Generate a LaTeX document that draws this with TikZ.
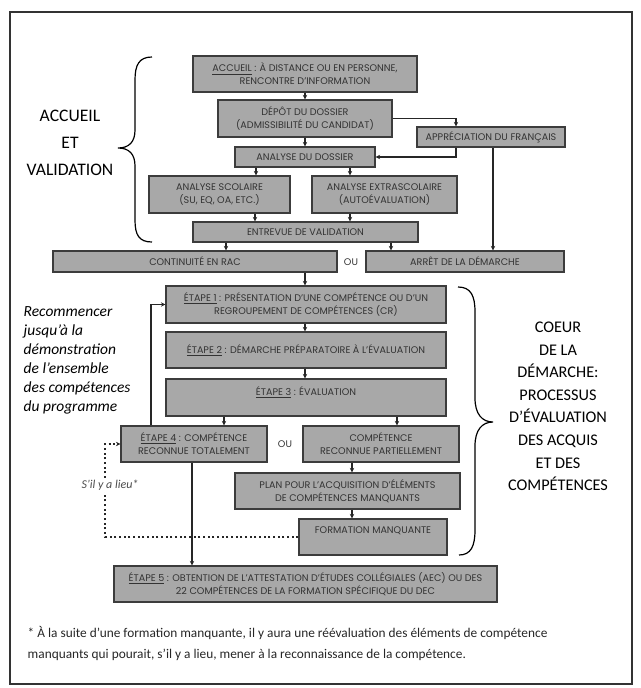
\documentclass[tikz,border=0pt]{standalone}
\usepackage{fontspec}
\setmainfont{Carlito}
\newfontfamily\boxfont{Poppins}
\usetikzlibrary{arrows.meta}
\newcommand{\pxu}{0.75pt}
\definecolor{boxfill}{RGB}{168,168,168}
\definecolor{boxline}{RGB}{60,60,60}

\begin{document}
\begin{tikzpicture}[
  x=0.75pt, y=-0.75pt,
  box/.style 2 args={draw=boxline, fill=boxfill, line width=0.9pt, align=center, inner sep=0pt,
    minimum width=#1*\pxu, minimum height=#2*\pxu, font=\boxfont\fontsize{7.2}{9.8}\selectfont, text=black!80},
  arr/.style={-{Stealth[length=3.4pt,width=3.4pt]}, line width=1pt, draw=black!85},
  dotarr/.style={-{Stealth[length=3.4pt,width=3.4pt]}, line width=1.5pt, dotted, draw=black!85},
  ou/.style={font=\boxfont\fontsize{7.2}{9.8}\selectfont, text=black!80},
  bigtitle/.style={align=center, font=\fontsize{13.2}{20.25}\selectfont},
  sidetitle/.style={align=center, font=\fontsize{12.2}{16.9}\selectfont},
  brace/.style={line width=0.9pt, draw=black}
  ]
\useasboundingbox (0,0) rectangle (640,688);
\draw[line width=1.4pt, draw=black!80] (10,12) rectangle (632,684);

% accueil et validation
\node[box={224}{36}] (accueil) at (305,74) {\underline{ACCUEIL} : À DISTANCE OU EN PERSONNE,\\RENCONTRE D’INFORMATION};
\node[box={174}{37}] (depot) at (305,118.5) {DÉPÔT DU DOSSIER\\(ADMISSIBILITÉ DU CANDIDAT)};
\node[box={148}{20}] (appr) at (491,137) {APPRÉCIATION DU FRANÇAIS};
\node[box={140}{20}] (analyse) at (305,157) {ANALYSE DU DOSSIER};
\node[box={141}{37}] (scol) at (219.5,194.5) {ANALYSE SCOLAIRE\\(SU, EQ, OA, ETC.)};
\node[box={145}{37}] (extra) at (384.5,194.5) {ANALYSE EXTRASCOLAIRE\\(AUTOÉVALUATION)};
\node[box={225}{20}] (entrevue) at (305.5,232) {ENTREVUE DE VALIDATION};
\node[box={284}{21}] (rac) at (195,261.5) {CONTINUITÉ EN RAC};
\node[ou] (ou1) at (351,262) {OU};
\node[box={198}{21}] (arret) at (465,261.5) {ARRÊT DE LA DÉMARCHE};

\draw[arr] (accueil) -- (depot);
\draw[arr] (depot) -- (analyse);
\draw[arr] (depot.east) -| (appr.north -| 456,0);
\draw[arr] (appr.south -| 456,0) |- (analyse.east);
\draw[arr] (appr.south -| 493,0) -- (arret.north -| 493,0);
\draw[arr] (analyse.south -| 256,0) -- (scol.north -| 256,0);
\draw[arr] (analyse.south -| 350,0) -- (extra.north -| 350,0);
\draw[arr] (scol.south -| 255,0) -- (entrevue.north -| 255,0);
\draw[arr] (extra.south -| 350,0) -- (entrevue.north -| 350,0);
\draw[arr] (entrevue.south -| 226,0) -- (rac.north -| 226,0);
\draw[arr] (entrevue.south -| 391,0) -- (arret.north -| 391,0);

% coeur de la demarche
\node[box={280}{37}] (etape1) at (306,304.5) {\underline{ÉTAPE 1} : PRÉSENTATION D’UNE COMPÉTENCE OU D’UN\\REGROUPEMENT DE COMPÉTENCES (CR)};
\node[box={280}{36}] (etape2) at (306,350) {\underline{ÉTAPE 2} : DÉMARCHE PRÉPARATOIRE À L’ÉVALUATION};
\node[box={280}{37}] (etape3) at (306,397.5) {\underline{ÉTAPE 3} : ÉVALUATION\\\mbox{}};
\node[box={146}{36}] (etape4) at (194,444) {\underline{ÉTAPE 4} : COMPÉTENCE\\RECONNUE TOTALEMENT};
\node[ou] (ou2) at (285,444) {OU};
\node[box={156}{36}] (partiel) at (381,444) {COMPÉTENCE\\RECONNUE PARTIELLEMENT};
\node[box={225}{36}] (plan) at (347.5,491) {PLAN POUR L’ACQUISITION D’ÉLÉMENTS\\DE COMPÉTENCES MANQUANTS};
\node[box={148}{36}] (formation) at (373,537) {FORMATION MANQUANTE\\\mbox{}};
\node[box={383}{36}] (etape5) at (305.5,584) {\underline{ÉTAPE 5} : OBTENTION DE L’ATTESTATION D’ÉTUDES COLLÉGIALES (AEC) OU DES\\22 COMPÉTENCES DE LA FORMATION SPÉCIFIQUE DU DEC};

\draw[arr] (rac.south -| 305,0) -- (etape1.north -| 305,0);
\draw[arr] (etape1.south -| 305,0) -- (etape2.north -| 305,0);
\draw[arr] (etape2.south -| 305,0) -- (etape3.north -| 305,0);
\draw[arr] (etape3.south -| 224,0) -- (etape4.north -| 224,0);
\draw[arr] (etape3.south -| 397,0) -- (partiel.north -| 397,0);
\draw[arr] (partiel.south -| 352,0) -- (plan.north -| 352,0);
\draw[arr] (plan.south -| 352,0) -- (formation.north -| 352,0);
\draw[arr] (etape4.south -| 192,0) -- (etape5.north -| 192,0);
\draw[arr] (etape4.north -| 151,0) |- (etape1.west);
\draw[dotarr] (formation.west) -| ([xshift=-15*\pxu]etape4.west) -- (etape4.west);
\node[fill=white, inner sep=1pt, font=\fontsize{9}{10}\itshape, text=black!70] (silya) at (110,485) {S’il y a lieu*};

% accolades et titres
\draw[brace] (152,57) .. controls (139,57) and (135,65) .. (135,80) -- (135,130)
  .. controls (135,142) and (129,148) .. (118,148) .. controls (129,148) and (135,154) .. (135,166)
  -- (135,220) .. controls (135,235) and (139,242) .. (152,242);
\draw[brace] (458,287) .. controls (471,287) and (475,296) .. (475,312) -- (475,398)
  .. controls (475,414) and (482,422) .. (493,422) .. controls (482,422) and (475,430) .. (475,446)
  -- (475,530) .. controls (475,546) and (471,555) .. (459,555);
\node[bigtitle] (titre1) at (70,143) {ACCUEIL\\ET\\VALIDATION};
\node[sidetitle] (titre2) at (558,406.5) {COEUR\\DE LA\\DÉMARCHE:\\PROCESSUS\\D’ÉVALUATION\\DES ACQUIS\\ET DES\\COMPÉTENCES};
\node[anchor=west, align=left, font=\fontsize{11.6}{14.25}\itshape] (recommencer) at (19,360.5)
  {Recommencer\\jusqu’à la\\démonstration\\de l’ensemble\\des compétences\\du programme};

% note
\node[anchor=west, align=left, font=\fontsize{10}{15.75}\selectfont, text=black!85] (note) at (23,643.5)
  {* À la suite d’une formation manquante, il y aura une réévaluation des éléments de compétence\\manquants qui pourait, s’il y a lieu, mener à la reconnaissance de la compétence.};
\end{tikzpicture}
\end{document}
